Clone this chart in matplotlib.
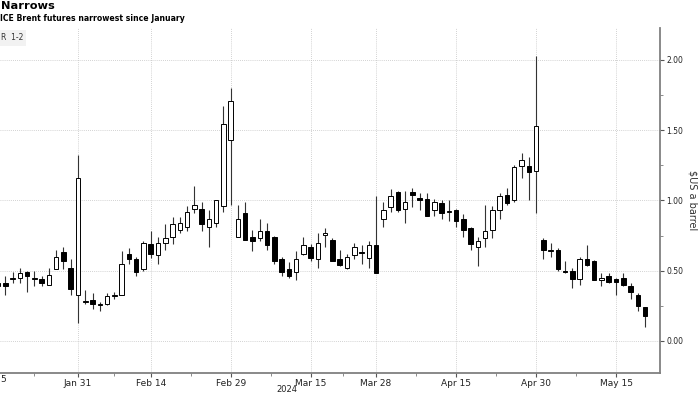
import matplotlib
matplotlib.use("Agg")
import matplotlib.pyplot as plt
from matplotlib.ticker import FixedLocator, MultipleLocator, FormatStrFormatter
import numpy as np
import pandas as pd

# trading calendar (ICE closed on Good Friday)
FIRST_DAY = "2024-01-15"
LAST_DAY = "2024-05-21"
HOLIDAYS = ["2024-03-29"]

# Brent 1st-2nd month spread, $/bbl, daily candles from Jan 16
opens = [0.39, 0.41, 0.44, 0.45, 0.49, 0.44, 0.44, 0.40, 0.51, 0.63, 0.52, 0.33,
         0.28, 0.29, 0.255, 0.26, 0.32, 0.33, 0.62, 0.58, 0.51, 0.69, 0.61, 0.70,
         0.74, 0.79, 0.81, 0.94, 0.94, 0.81, 0.84, 0.96, 1.43,
         0.74, 0.91, 0.74, 0.73, 0.78, 0.74, 0.58, 0.51, 0.49, 0.62, 0.67, 0.58,
         0.755, 0.72, 0.58, 0.52, 0.61, 0.635, 0.59, 0.68,
         0.87, 0.95, 1.06, 0.94, 1.06, 1.02, 1.01, 0.93, 0.98, 0.92, 0.93, 0.87,
         0.80, 0.67, 0.73, 0.79, 0.93, 1.04, 1.00, 1.245, 1.245, 1.21,
         0.72, 0.64, 0.65, 0.50, 0.50, 0.44, 0.58, 0.57, 0.43, 0.46, 0.44, 0.45,
         0.39, 0.33, 0.24]
highs = [0.42, 0.46, 0.49, 0.52, 0.50, 0.50, 0.46, 0.52, 0.65, 0.67, 0.58, 1.32,
         0.36, 0.34, 0.28, 0.34, 0.35, 0.64, 0.66, 0.60, 0.71, 0.78, 0.74, 0.83,
         0.88, 0.88, 0.96, 1.10, 0.99, 0.93, 1.00, 1.67, 1.80,
         0.97, 0.99, 0.79, 0.87, 0.84, 0.75, 0.60, 0.56, 0.64, 0.74, 0.69, 0.77,
         0.80, 0.73, 0.65, 0.62, 0.70, 0.68, 0.71, 1.03,
         0.99, 1.08, 1.07, 1.07, 1.09, 1.05, 1.05, 1.01, 1.00, 1.00, 0.94, 0.90,
         0.81, 0.74, 0.97, 0.96, 1.05, 1.09, 1.25, 1.34, 1.31, 2.03,
         0.73, 0.70, 0.66, 0.57, 0.52, 0.60, 0.68, 0.575, 0.48, 0.48, 0.45, 0.48,
         0.41, 0.34, 0.24]
lows = [0.38, 0.33, 0.41, 0.41, 0.35, 0.39, 0.39, 0.40, 0.51, 0.51, 0.33, 0.13,
        0.26, 0.23, 0.21, 0.255, 0.30, 0.33, 0.55, 0.46, 0.50, 0.59, 0.55, 0.65,
        0.69, 0.77, 0.78, 0.91, 0.78, 0.67, 0.81, 0.92, 0.97,
        0.74, 0.72, 0.64, 0.71, 0.65, 0.55, 0.46, 0.45, 0.43, 0.61, 0.57, 0.52,
        0.67, 0.57, 0.53, 0.51, 0.58, 0.55, 0.52, 0.48,
        0.81, 0.92, 0.92, 0.84, 0.95, 0.93, 0.89, 0.89, 0.87, 0.85, 0.81, 0.74,
        0.65, 0.53, 0.67, 0.73, 0.87, 0.97, 0.99, 1.16, 1.00, 0.91,
        0.58, 0.60, 0.50, 0.485, 0.38, 0.40, 0.53, 0.43, 0.39, 0.41, 0.33, 0.39,
        0.30, 0.21, 0.10]
closes = [0.41, 0.39, 0.45, 0.48, 0.46, 0.445, 0.415, 0.47, 0.60, 0.57, 0.37, 1.16,
          0.285, 0.26, 0.26, 0.32, 0.33, 0.55, 0.58, 0.49, 0.70, 0.62, 0.70, 0.73,
          0.83, 0.84, 0.92, 0.97, 0.83, 0.87, 1.00, 1.54, 1.71,
          0.87, 0.72, 0.71, 0.78, 0.68, 0.57, 0.49, 0.46, 0.58, 0.68, 0.59, 0.70,
          0.77, 0.57, 0.54, 0.60, 0.67, 0.625, 0.68, 0.48,
          0.93, 1.03, 0.93, 0.99, 1.04, 1.00, 0.89, 0.99, 0.91, 0.925, 0.85, 0.79,
          0.69, 0.71, 0.78, 0.93, 1.03, 0.98, 1.24, 1.29, 1.20, 1.53,
          0.65, 0.645, 0.51, 0.49, 0.44, 0.58, 0.54, 0.43, 0.45, 0.42, 0.42, 0.40,
          0.35, 0.25, 0.18]

tick_dates = ["2024-01-15", "2024-01-31", "2024-02-14", "2024-02-29", "2024-03-15",
              "2024-03-28", "2024-04-15", "2024-04-30", "2024-05-15"]
tick_labels = ["Jan 15", "Jan 31", "Feb 14", "Feb 29", "Mar 15",
               "Mar 28", "Apr 15", "Apr 30", "May 15"]

days = pd.bdate_range(FIRST_DAY, LAST_DAY)
days = days[~days.isin(pd.to_datetime(HOLIDAYS))]
pos = {d: i for i, d in enumerate(days)}
x = np.arange(1, 1 + len(opens))

o = np.array(opens)
h = np.array(highs)
l = np.array(lows)
c = np.array(closes)
up = c >= o

fig = plt.figure(figsize=(7, 3.94), dpi=100)
ax = fig.add_axes([0, 21 / 394, 660 / 700, 345 / 394])

ax.vlines(x, l, h, color="#333333", lw=0.8, zorder=2)
body_lo = np.minimum(o, c)
body_h = np.maximum(np.abs(c - o), 0.006)
ax.bar(x[up], body_h[up], bottom=body_lo[up], width=0.62,
       facecolor="white", edgecolor="black", lw=0.7, zorder=3)
ax.bar(x[~up], body_h[~up], bottom=body_lo[~up], width=0.62,
       facecolor="black", edgecolor="black", lw=0.7, zorder=3)

ax.set_xlim(1.27, 92.05)
ax.set_ylim(-0.228, 2.226)

tick_font = ["Liberation Sans Narrow", "DejaVu Sans"]
tpos = [pos[pd.Timestamp(d)] for d in tick_dates]
ax.xaxis.set_major_locator(FixedLocator(tpos[1:]))
ax.xaxis.set_minor_locator(FixedLocator([(a + b) / 2 for a, b in zip(tpos[:-1], tpos[1:])]))
ax.set_xticklabels(tick_labels[1:], family=tick_font, fontsize=6.5, color="#222222")
# "Jan 15" lies left of the window; only its last digit shows at the edge
fig.text(0.5 / 700, 1 - 380 / 394, tick_labels[0][-1], ha="left", va="center",
         family=tick_font, fontsize=6.5, color="#222222")

ax.yaxis.tick_right()
ax.yaxis.set_major_locator(MultipleLocator(0.5))
ax.yaxis.set_minor_locator(MultipleLocator(0.25))
ax.yaxis.set_major_formatter(FormatStrFormatter("%.2f"))
for lab in ax.get_yticklabels():
    lab.set_fontsize(5.5)
    lab.set_color("#222222")

ax.tick_params(axis="both", which="major", length=3, width=0.8, color="#555555", pad=1.5)
ax.tick_params(axis="both", which="minor", length=2, width=0.6, color="#777777")

ax.grid(True, which="major", linestyle=(0, (1, 1.5)), color="#c4c4c4", lw=0.6)
ax.set_axisbelow(True)
for s in ["left", "top"]:
    ax.spines[s].set_visible(False)
for s in ["right", "bottom"]:
    ax.spines[s].set_color("#808080")
    ax.spines[s].set_linewidth(1.3)

fig.text(1 / 700, 1 - 1 / 394, "Narrows", fontsize=8.2, fontweight="bold", va="top", ha="left")
fig.text(0 / 700, 1 - 14 / 394, "ICE Brent futures narrowest since January",
         fontsize=5.6, fontweight="bold", va="top", ha="left")
fig.text(1 / 700, 1 - 38 / 394, "R  1-2", fontsize=5.5, va="center", ha="left", color="#333333",
         bbox=dict(boxstyle="square,pad=0.4", facecolor="#f2f2f2", edgecolor="none"))
fig.text(692 / 700, 1 - 200 / 394, r"\$US a barrel", fontsize=7, rotation=270,
         va="center", ha="center", color="#333333")
fig.text(287 / 700, 1 - 389 / 394, "2024", fontsize=6, va="center", ha="center",
         family=tick_font, color="#222222")

fig.savefig("out.png", dpi=100)
